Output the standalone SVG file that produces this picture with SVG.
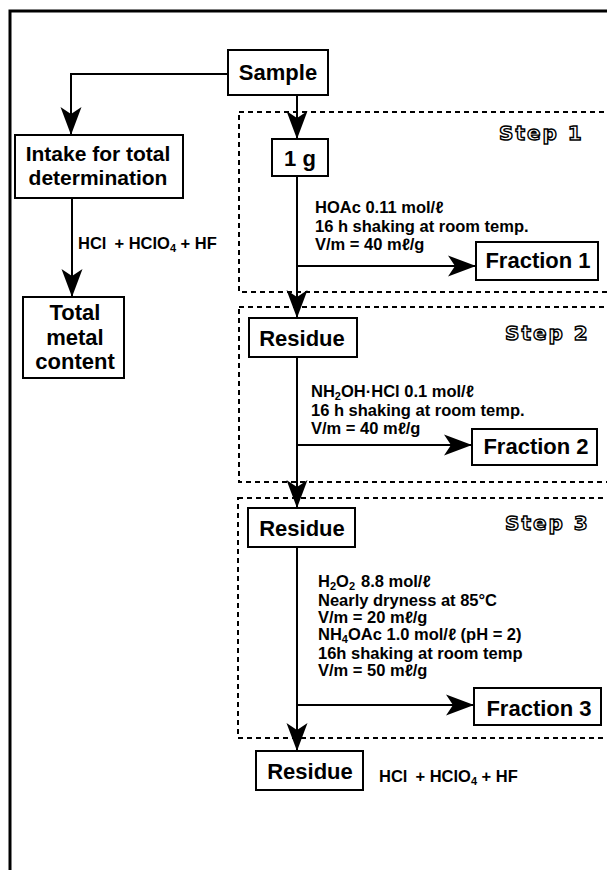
<svg xmlns="http://www.w3.org/2000/svg" width="607" height="870" viewBox="0 0 607 870">
<style>
.box{fill:#fff;stroke:#000;stroke-width:2}
.dash{fill:none;stroke:#000;stroke-width:2;stroke-dasharray:5 4}
.lbl{font-family:"Liberation Sans",Arial,sans-serif;font-weight:bold;font-size:22px;fill:#000;text-anchor:middle}
.lbl2{font-size:21px}
.sm{font-family:"Liberation Sans",Arial,sans-serif;font-weight:bold;font-size:16.5px;fill:#000}
.step{font-family:"DejaVu Sans",sans-serif;font-weight:bold;font-size:20px;fill:#fff;stroke:#000;stroke-width:1.4;letter-spacing:2px}
.con{fill:none;stroke:#000;stroke-width:2}
.sub{font-size:11px}
</style>
<defs>
<marker id="ah" markerUnits="userSpaceOnUse" markerWidth="30" markerHeight="24" viewBox="-29 -11 30 22" refX="0" refY="0" orient="auto">
<path d="M0,0 L-28,-10.5 L-21,0 L-28,10.5 Z" fill="#000"/>
</marker>
</defs>
<rect x="10" y="11" width="620" height="880" fill="none" stroke="#000" stroke-width="3"/>
<g id="steps">
<rect class="dash" x="239" y="112" width="400" height="180"/>
<text class="step" x="499" y="140">Step 1</text>
<rect class="dash" x="239" y="307" width="400" height="175"/>
<text class="step" x="505" y="340">Step 2</text>
<rect class="dash" x="238" y="498" width="400" height="240"/>
<text class="step" x="505" y="530">Step 3</text>
</g>
<g id="connectors">
<path class="con" d="M228,74 H71 V135" marker-end="url(#ah)"/>
<path class="con" d="M72,198 V297" marker-end="url(#ah)"/>
<path class="con" d="M297,95 V139" marker-end="url(#ah)"/>
<path class="con" d="M297,176 V318" marker-end="url(#ah)"/>
<path class="con" d="M297,266 H476" marker-end="url(#ah)"/>
<path class="con" d="M297,357 V508" marker-end="url(#ah)"/>
<path class="con" d="M297,445 H472" marker-end="url(#ah)"/>
<path class="con" d="M297,547 V751" marker-end="url(#ah)"/>
<path class="con" d="M297,705 H474" marker-end="url(#ah)"/>
<text class="sm" x="78" y="249">HCl<tspan dx="8">+ HClO</tspan><tspan class="sub" dy="3">4</tspan><tspan dy="-3"> + HF</tspan></text>
<text class="sm" x="379" y="782">HCl<tspan dx="8">+ HClO</tspan><tspan class="sub" dy="3">4</tspan><tspan dy="-3"> + HF</tspan></text>
<text class="sm" x="315" y="213">HOAc 0.11 mol/ℓ</text>
<text class="sm" x="315" y="232">16 h shaking at room temp.</text>
<text class="sm" x="315" y="250">V/m = 40 mℓ/g</text>
<text class="sm" x="311" y="397">NH<tspan class="sub" dy="3">2</tspan><tspan dy="-3">OH·HCl 0.1 mol/ℓ</tspan></text>
<text class="sm" x="311" y="416">16 h shaking at room temp.</text>
<text class="sm" x="311" y="434">V/m = 40 mℓ/g</text>
<text class="sm" x="318" y="587">H<tspan class="sub" dy="3">2</tspan><tspan dy="-3">O</tspan><tspan class="sub" dy="3">2</tspan><tspan dy="-3" dx="6">8.8 mol/ℓ</tspan></text>
<text class="sm" x="318" y="606">Nearly dryness at 85°C</text>
<text class="sm" x="318" y="623">V/m = 20 mℓ/g</text>
<text class="sm" x="318" y="640">NH<tspan class="sub" dy="3">4</tspan><tspan dy="-3">OAc 1.0 mol/ℓ (pH = 2)</tspan></text>
<text class="sm" x="318" y="659">16h shaking at room temp</text>
<text class="sm" x="318" y="676">V/m = 50 mℓ/g</text>
</g>
<g id="sample"><rect class="box" x="228" y="50" width="100" height="45"/><text class="lbl" x="278" y="80">Sample</text></g>
<g id="intake"><rect class="box" x="15" y="135" width="168" height="63"/><text class="lbl lbl2" x="98" y="161">Intake for total</text><text class="lbl lbl2" x="98" y="185">determination</text></g>
<g id="total"><rect class="box" x="23" y="297" width="101" height="81"/><text class="lbl" x="75" y="320">Total</text><text class="lbl" x="75" y="345">metal</text><text class="lbl" x="75" y="369">content</text></g>
<g id="g1"><rect class="box" x="272" y="139" width="56" height="37"/><text class="lbl" x="300" y="166">1 g</text></g>
<g id="fraction1"><rect class="box" x="476" y="242" width="122" height="38"/><text class="lbl" x="538" y="268">Fraction 1</text></g>
<g id="residue2"><rect class="box" x="249" y="318" width="108" height="39"/><text class="lbl" x="302" y="346">Residue</text></g>
<g id="fraction2"><rect class="box" x="472" y="429" width="125" height="36"/><text class="lbl" x="536" y="454">Fraction 2</text></g>
<g id="residue3"><rect class="box" x="248" y="508" width="107" height="39"/><text class="lbl" x="302" y="536">Residue</text></g>
<g id="fraction3"><rect class="box" x="474" y="688" width="127" height="37"/><text class="lbl" x="539" y="716">Fraction 3</text></g>
<g id="residue4"><rect class="box" x="256" y="751" width="107" height="39"/><text class="lbl" x="310" y="779">Residue</text></g>
</svg>
